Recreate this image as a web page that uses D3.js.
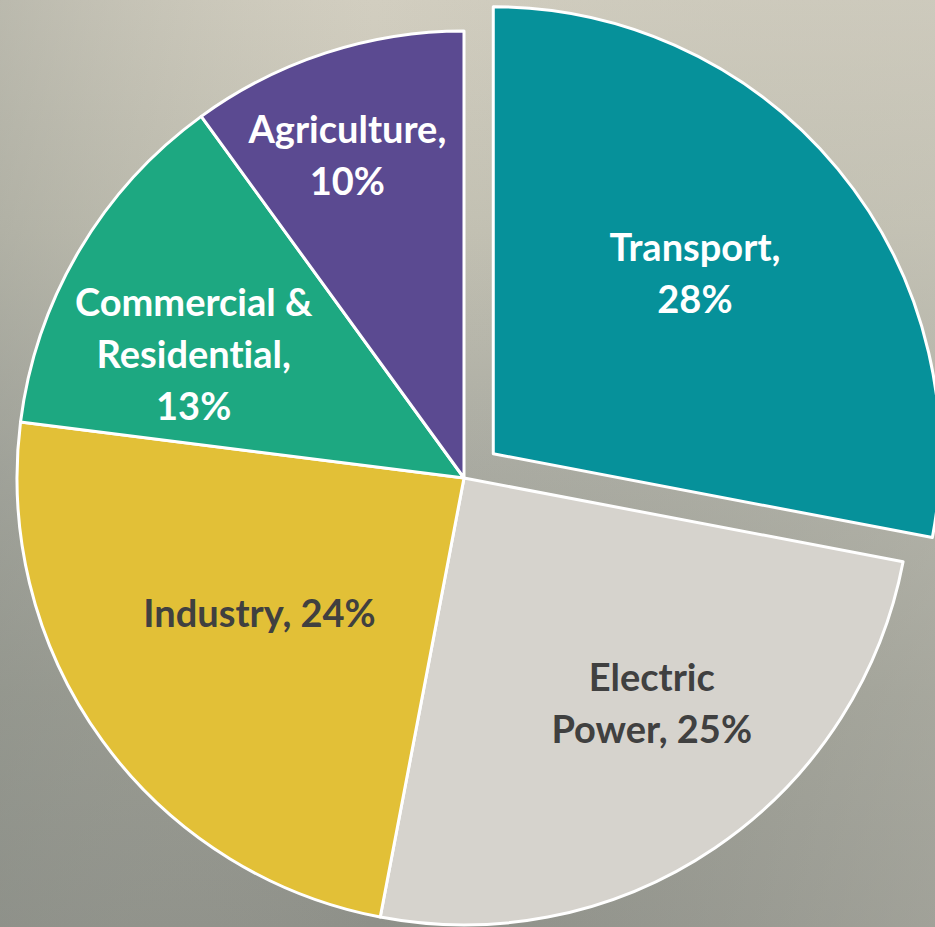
<!DOCTYPE html>
<html><head><meta charset="utf-8">
<script src="https://cdn.jsdelivr.net/npm/d3@7"></script>
<style>html,body{margin:0;padding:0;overflow:hidden;background:#a8a89e} text{font-variant-ligatures:none;font-feature-settings:"liga" 0}</style>
</head><body>
<svg id="c" width="935" height="927"></svg>
<script>
const categories = ["Transport", "Electric Power", "Industry", "Commercial & Residential", "Agriculture"];
const values = [28, 25, 24, 13, 10];
const labelLines = [["Transport,", "28%"], ["Electric", "Power, 25%"], ["Industry, 24%"], ["Commercial &", "Residential,", "13%"], ["Agriculture,", "10%"]];
const colors = ["#06919a", "#d6d3cd", "#e2c037", "#1da881", "#5b4a91"];
const textColors = ["#ffffff", "#404040", "#404040", "#ffffff", "#ffffff"];
const explode = [38, 0, 0, 0, 0];

const svg = d3.select("#c");
const W = 935, H = 927;
const defs = svg.append("defs");
const g1 = defs.append("linearGradient").attr("id", "bg").attr("x1", 0).attr("y1", 0).attr("x2", 0).attr("y2", 1);
[[0, "#d2cec0"], [0.25, "#c3c1b3"], [0.5, "#a9aaa1"], [0.75, "#979990"], [1, "#8e9089"]].forEach(s => g1.append("stop").attr("offset", s[0]).attr("stop-color", s[1]));
const g2 = defs.append("linearGradient").attr("id", "bg2").attr("x1", 0).attr("y1", 0).attr("x2", 1).attr("y2", 0);
[[0, "#8f938b", 0.35], [0.4, "#b0b0a4", 0], [1, "#c4c2b6", 0.35]].forEach(s => g2.append("stop").attr("offset", s[0]).attr("stop-color", s[1]).attr("stop-opacity", s[2]));
svg.append("rect").attr("width", W).attr("height", H).attr("fill", "url(#bg)");
svg.append("rect").attr("width", W).attr("height", H).attr("fill", "url(#bg2)");

const cx = 464, cy = 478, R = 447;
const pie = d3.pie().sort(null).value(d => d)(values);
const arc = d3.arc().innerRadius(0).outerRadius(R);
const gp = svg.append("g").attr("transform", `translate(${cx},${cy})`);

const slices = gp.selectAll("g.s").data(pie).join("g").attr("class", "s")
  .attr("transform", (d, i) => {
    const a = (d.startAngle + d.endAngle) / 2;
    return `translate(${Math.sin(a) * explode[i]},${-Math.cos(a) * explode[i]})`;
  });
slices.append("path").attr("d", arc).attr("fill", (d, i) => colors[i])
  .attr("stroke", "#ffffff").attr("stroke-width", 3).attr("stroke-linejoin", "round");

// label anchor placement (radial fraction of R, angle offset in radians from slice mid-angle)
const labelR = [0.605, 0.656, 0.548, 0.665, 0.767];
const labelShift = [-0.038, -0.098, 0.045, -0.105, -0.033];
const fs = 38, lh = 52;
slices.each(function (d, i) {
  const a = (d.startAngle + d.endAngle) / 2 + labelShift[i];
  const x = Math.sin(a) * R * labelR[i], y = -Math.cos(a) * R * labelR[i];
  const lines = labelLines[i];
  const t = d3.select(this).append("text")
    .attr("text-anchor", "middle")
    .attr("font-family", "Lato, 'Open Sans', sans-serif")
    .attr("font-weight", "bold").attr("font-size", fs)
    .attr("fill", textColors[i]);
  lines.forEach((ln, k) => {
    t.append("tspan").attr("x", x).attr("y", y + (k - (lines.length - 1) / 2) * lh + fs * 0.36).text(ln);
  });
});
</script>
</body></html>
